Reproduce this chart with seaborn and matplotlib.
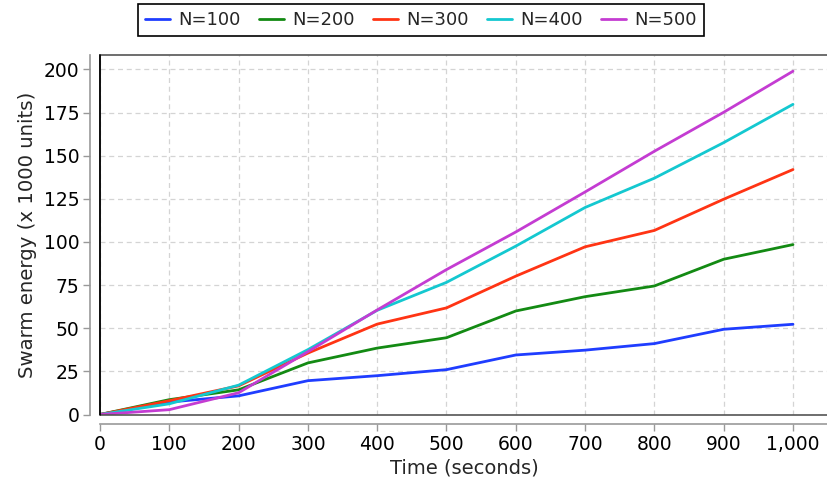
import matplotlib
matplotlib.use("Agg")
import matplotlib.pyplot as plt
import matplotlib.ticker as mticker
from matplotlib.patches import Rectangle
import seaborn as sns
import pandas as pd

time_s = [0, 100, 200, 300, 400, 500, 600, 700, 800, 900, 1000]
n100 = [0, 7.2, 10.8, 19.6, 22.5, 26.0, 34.5, 37.3, 41.1, 49.4, 52.3]
n200 = [0, 8.6, 14.3, 29.9, 38.5, 44.5, 60.0, 68.3, 74.5, 90.0, 98.5]
n300 = [0, 8.0, 16.6, 35.6, 52.4, 61.8, 80.2, 97.2, 106.7, 124.8, 142.0]
n400 = [0, 6.2, 17.0, 37.6, 60.4, 76.6, 97.6, 120.0, 137.0, 157.6, 179.8]
n500 = [0, 2.8, 12.6, 36.4, 60.6, 84.0, 105.8, 129.0, 152.6, 175.2, 199.0]
series_names = ["N=100", "N=200", "N=300", "N=400", "N=500"]
colors = ["#1f3dff", "#138a13", "#ff3414", "#14c8d0", "#c43cd2"]

rows = []
for name, vals in zip(series_names, [n100, n200, n300, n400, n500]):
    for t, v in zip(time_s, vals):
        rows.append({"Time": t, "Energy": v, "Series": name})
df = pd.DataFrame(rows)

sns.set_theme(style="white")
plt.rcParams['font.family'] = ['DejaVu Sans']

fig = plt.figure(figsize=(8.27, 4.87), dpi=100)
ax = fig.add_axes([100/827, 1-414.5/487, 729/827, (414.5-55)/487])

sns.lineplot(data=df, x="Time", y="Energy", hue="Series", palette=colors,
             hue_order=series_names, linewidth=2.0, ax=ax, legend=True)

ax.set_xlim(0, 1052)
ax.set_ylim(0, 208.4)
ax.set_xticks(time_s)
ax.set_yticks([0, 25, 50, 75, 100, 125, 150, 175, 200])
ax.xaxis.set_major_formatter(mticker.FuncFormatter(lambda v, p: f"{int(v):,}"))

ax.grid(True, color="#d4d4d4", linestyle=(0, (4, 3)), linewidth=0.9)
ax.set_axisbelow(True)

for s in ["top", "right"]:
    ax.spines[s].set_visible(False)
for s in ["left", "bottom"]:
    ax.spines[s].set_position(("outward", 7))
    ax.spines[s].set_color("#999999")
    ax.spines[s].set_linewidth(1.2)

ax.add_patch(Rectangle((0, 0), 1, 1, transform=ax.transAxes, fill=False,
                       edgecolor="#555555", linewidth=1.2, clip_on=False, zorder=5))
ax.plot([0, 0], [0, 1], transform=ax.transAxes, color="black", lw=1.2,
        clip_on=False, zorder=6)

ax.tick_params(axis="both", which="both", direction="out", length=5, width=1,
               color="#999999", labelsize=13.5, labelcolor="black", pad=3,
               bottom=True, left=True)

ax.set_xlabel("Time (seconds)", fontsize=14, labelpad=3)
ax.set_ylabel("Swarm energy (x 1000 units)", fontsize=14.2, labelpad=5)

handles, labels = ax.get_legend_handles_labels()
ax.legend(handles, labels, loc="upper center", bbox_to_anchor=(421/827, 1-4/487),
          bbox_transform=fig.transFigure, ncol=5, frameon=True, fancybox=False,
          edgecolor="black", fontsize=13, handlelength=1.4, handletextpad=0.45,
          columnspacing=1.0, borderpad=0.4, borderaxespad=0, framealpha=1)
ax.get_legend().get_frame().set_linewidth(1.2)

fig.savefig("out.png", dpi=100)
